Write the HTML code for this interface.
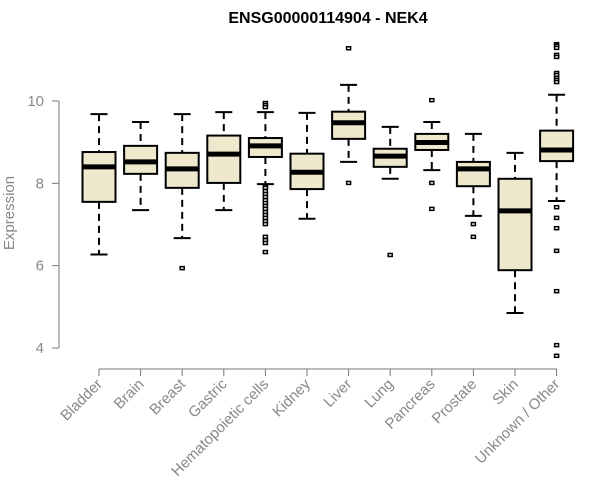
<!DOCTYPE html>
<html><head><meta charset="utf-8"><style>
html,body{margin:0;padding:0;background:#fff;}
svg{display:block;font-family:"Liberation Sans",Arial,sans-serif;}
</style></head><body>
<svg id="chart" width="600" height="500" viewBox="0 0 600 500">
<text x="328" y="23" text-anchor="middle" font-size="16" font-weight="bold" fill="#000">ENSG00000114904 - NEK4</text>
<text transform="translate(14,213) rotate(-90)" text-anchor="middle" font-size="15" fill="#888">Expression</text>
<g id="yaxis"></g>
<g id="xaxis"></g>
<g id="boxes"></g>
</svg>
<script>
const categories=["Bladder","Brain","Breast","Gastric","Hematopoietic cells","Kidney","Liver","Lung","Pancreas","Prostate","Skin","Unknown / Other"];
const whiskerLow=[6.27,7.35,6.67,7.35,7.98,7.14,8.52,8.11,8.32,7.21,4.85,7.57];
const q1=[7.55,8.23,7.89,8.01,8.64,7.86,9.08,8.40,8.81,7.93,5.89,8.54];
const median=[8.40,8.52,8.35,8.71,8.91,8.27,9.47,8.66,8.99,8.35,7.33,8.81];
const q3=[8.76,8.91,8.74,9.16,9.10,8.72,9.74,8.84,9.20,8.52,8.11,9.28];
const whiskerHigh=[9.68,9.49,9.68,9.73,9.73,9.71,10.39,9.37,9.49,9.20,8.74,10.15];
const outliers=[[],[],[5.94],[],[9.95,9.90,9.85,7.93,7.89,7.81,7.74,7.67,7.59,7.52,7.45,7.38,7.30,7.23,7.16,7.08,7.01,6.70,6.62,6.55,6.33],[],[11.28,8.01],[6.26],[10.02,8.01,7.38],[7.01,6.70],[],[11.38,11.34,11.29,11.12,11.07,10.68,10.63,10.56,10.51,10.46,7.42,7.16,6.91,6.36,5.38,4.07,3.81]];
const yTicks=[4,6,8,10];

const NS="http://www.w3.org/2000/svg";
function y(v){return 348-(v-4)*41.17;}
function x(i){return 99+i*41.6;}
function mk(tag,attrs,parent){const e=document.createElementNS(NS,tag);for(const k in attrs)e.setAttribute(k,attrs[k]);parent.appendChild(e);return e;}
const ya=document.getElementById('yaxis'),xa=document.getElementById('xaxis'),bx=document.getElementById('boxes');
let l=mk('line',{x1:59,x2:59,y1:y(10),y2:y(4),stroke:'#777','stroke-width':1},ya);


yTicks.forEach(t=>{
  const tk=mk('line',{x1:52,x2:59,y1:y(t),y2:y(t),stroke:'#777'},ya);
  
  
  const tx=mk('text',{x:44,y:y(t)+5,'text-anchor':'end','font-size':15,fill:'#888'},ya);
  tx.textContent=t;
  
  
});
l=mk('line',{x1:x(0),x2:x(categories.length-1),y1:369,y2:369,stroke:'#777'},xa);


categories.forEach((c,i)=>{
  const cx=x(i);
  const tk=mk('line',{x1:cx,x2:cx,y1:369,y2:376,stroke:'#777'},xa);
  
  
  const tx=mk('text',{x:0,y:0,'text-anchor':'end','font-size':15,fill:'#888',transform:`translate(${cx+4},${385}) rotate(-45)`},xa);
  tx.textContent=c;
  
  
  const g=mk('g',{},bx);
  
  
  mk('line',{x1:cx,x2:cx,y1:y(whiskerHigh[i]),y2:y(q3[i]),stroke:'#000','stroke-width':2,'stroke-dasharray':'7,5'},g);
  mk('line',{x1:cx,x2:cx,y1:y(q1[i]),y2:y(whiskerLow[i]),stroke:'#000','stroke-width':2,'stroke-dasharray':'7,5'},g);
  mk('line',{x1:cx-8.5,x2:cx+8.5,y1:y(whiskerHigh[i]),y2:y(whiskerHigh[i]),stroke:'#000','stroke-width':2},g);
  mk('line',{x1:cx-8.5,x2:cx+8.5,y1:y(whiskerLow[i]),y2:y(whiskerLow[i]),stroke:'#000','stroke-width':2},g);
  mk('rect',{x:cx-16.5,y:y(q3[i]),width:33,height:y(q1[i])-y(q3[i]),fill:'#EEE8CD',stroke:'#000','stroke-width':2},g);
  mk('line',{x1:cx-16.5,x2:cx+16.5,y1:y(median[i]),y2:y(median[i]),stroke:'#000','stroke-width':5},g);
  outliers[i].forEach(v=>{
    const o=mk('rect',{x:cx-2,y:y(v)-1.5,width:4,height:3,fill:'#fff',stroke:'#000','stroke-width':1.5},g);
    
    
  });
});
</script>
</body></html>
